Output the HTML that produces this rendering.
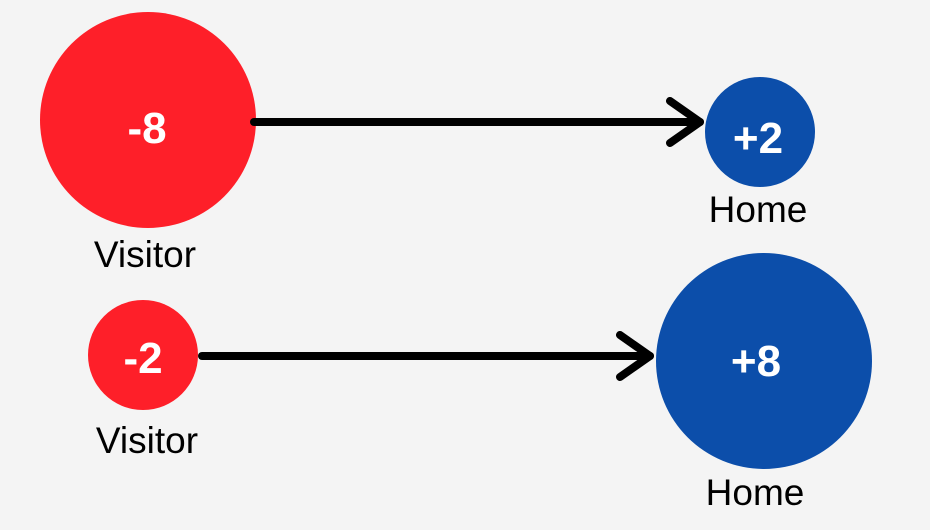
<!DOCTYPE html>
<html><head><meta charset="utf-8"><style>
html,body{margin:0;padding:0;background:#f4f4f4;}
</style></head><body>
<svg width="930" height="530" xmlns="http://www.w3.org/2000/svg" style="display:block">
<rect width="930" height="530" fill="#f4f4f4"/>
<circle cx="148" cy="120" r="108" fill="#fe1f29"/>
<circle cx="760" cy="132" r="55" fill="#0c4eaa"/>
<circle cx="143" cy="355" r="55" fill="#fe1f29"/>
<circle cx="764" cy="361" r="108" fill="#0c4eaa"/>
<g stroke="#000" stroke-width="8" fill="none" stroke-linecap="round" stroke-linejoin="round">
<line x1="254" y1="122" x2="700" y2="122"/>
<polyline points="670,101 700,122 670,143"/>
<line x1="202" y1="356" x2="650" y2="356"/>
<polyline points="620,335 650,356 620,377"/>
</g>
<g font-family="Liberation Sans, sans-serif" font-weight="bold" fill="#fff" font-size="44" text-anchor="middle">
<text x="147" y="143">-8</text>
<text x="758" y="153">+2</text>
<text x="143" y="373">-2</text>
<text x="756" y="376">+8</text>
</g>
<g font-family="Liberation Sans, sans-serif" fill="#000" font-size="37" text-anchor="middle">
<text x="145" y="267">Visitor</text>
<text x="758" y="222">Home</text>
<text x="147" y="453">Visitor</text>
<text x="755" y="505">Home</text>
</g>
</svg>
</body></html>
